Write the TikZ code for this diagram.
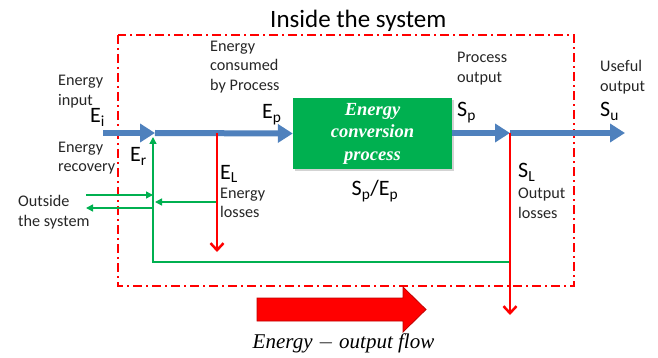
\documentclass[tikz,border=0pt]{standalone}
\usepackage{fontspec}
\setmainfont{Carlito}
\newfontfamily\tnr{Liberation Serif}
\usetikzlibrary{arrows.meta,shadows}
\definecolor{oblue}{HTML}{4F81BD}
\definecolor{ogreen}{HTML}{00B050}
\definecolor{dred}{HTML}{C00000}
\begin{document}
\begin{tikzpicture}[x=1pt,y=-1pt,
  lbl/.style={anchor=north west,inner sep=0pt,font=\fontsize{16.2}{19.8}\selectfont,align=left,text=black!85},
  sym/.style={anchor=base west,inner sep=0pt,font=\fontsize{22}{24}\selectfont},
  flow/.style={oblue,line width=6pt,-{Triangle[length=15pt,width=18pt]}},
  loss/.style={red,line width=2.5pt,-{Straight Barb[length=7pt,width=13pt]}},
  rec/.style={ogreen,line width=1.5pt,-{Triangle[length=7pt,width=7pt]}},
  recl/.style={ogreen,line width=1.5pt},
  sysbox/.style={red,line width=2pt,dash pattern=on 9pt off 4pt on 2pt off 4pt},
  procbox/.style={fill=ogreen,draw=none,minimum width=159pt,minimum height=71pt,inner sep=0pt,
    drop shadow={shadow xshift=2pt,shadow yshift=-2pt,opacity=0.35},
    text=white,align=center,font=\tnr\bfseries\itshape\fontsize{18.5}{22.5}\selectfont},
  bigarrow/.style={fill=red,draw=dred,line width=0.8pt}
]
\useasboundingbox (0,0) rectangle (658,358);

% system boundary
\draw[sysbox] (118,35) rectangle (574,286);
\node[anchor=base west,inner sep=0pt,font=\fontsize{25}{28}\selectfont] (title) at (270,28) {Inside the system};

% process box
\node[procbox] (proc) at (372.5,133.5) {Energy\\conversion\\process};

% coordinates on the main flow
\coordinate (ein) at (103,133);
\coordinate (jr) at (155,133);
\coordinate (jL) at (217,133);
\coordinate (jS) at (510,133);
\coordinate (sout) at (625,133);
\coordinate (eLend) at (217,252);
\coordinate (sLend) at (510,315);
\coordinate (gS) at (510,262);
\coordinate (gc) at (153,262);
\coordinate (gtip) at (153,137);
\coordinate (gL) at (217,202);
\coordinate (gLtip) at (155,202);
\coordinate (oin) at (86,195);
\coordinate (oinTip) at (153,195);
\coordinate (ooutS) at (153,208);
\coordinate (oout) at (86,208);

% blue flows
\draw[flow] (ein) -- (jr);
\draw[flow] (jr) -- (proc.west);
\draw[flow] (proc.east |- jS) -- (jS);
\draw[flow] (jS) -- (sout);

% green recovery
\draw[recl] (gS) -- (gc) -- (153,150);
\draw[rec] (153,160) -- (gtip);
\draw[rec] (gL) -- (gLtip);
\draw[rec] (oin) -- (oinTip);
\draw[rec] (ooutS) -- (oout);

% red losses
\draw[loss] (jL) -- (eLend);
\draw[loss] (jS) -- (sLend);

% big red arrow
\draw[bigarrow] (257,298) -- (403,298) -- (403,287) -- (426,309.5) -- (403,332) -- (403,321) -- (257,321) -- cycle;
\node[anchor=base,inner sep=0pt,font=\tnr\itshape\fontsize{21}{23}\selectfont] (flowlbl) at (343.5,348) {Energy $-$ output flow};

% labels
\node[lbl] (lin) at (58,75) {Energy\\input};
\node[lbl] (lrec) at (58,141.5) {Energy\\recovery};
\node[lbl] (lcons) at (210,40.5) {Energy\\consumed\\by Process};
\node[lbl] (llos) at (220,187.5) {Energy\\losses};
\node[lbl] (lout) at (18,195.5) {Outside\\the system};
\node[lbl] (lpo) at (457,52) {Process\\output};
\node[lbl] (luse) at (600,60.5) {Useful\\output};
\node[lbl] (lol) at (518,187.5) {Output\\losses};

\node[sym] (Ei) at (90,123) {E\textsubscript{i}};
\node[sym] (Er) at (130,162) {E\textsubscript{r}};
\node[sym] (Ep) at (262,119) {E\textsubscript{p}};
\node[sym] (EL) at (220,179) {E\textsubscript{L}};
\node[sym] (Sp) at (457,117) {S\textsubscript{p}};
\node[sym] (Su) at (600,117) {S\textsubscript{u}};
\node[sym] (SL) at (518,178) {S\textsubscript{L}};
\node[sym,anchor=base] (SpEp) at (375,196) {S\textsubscript{p}/E\textsubscript{p}};
\end{tikzpicture}
\end{document}
